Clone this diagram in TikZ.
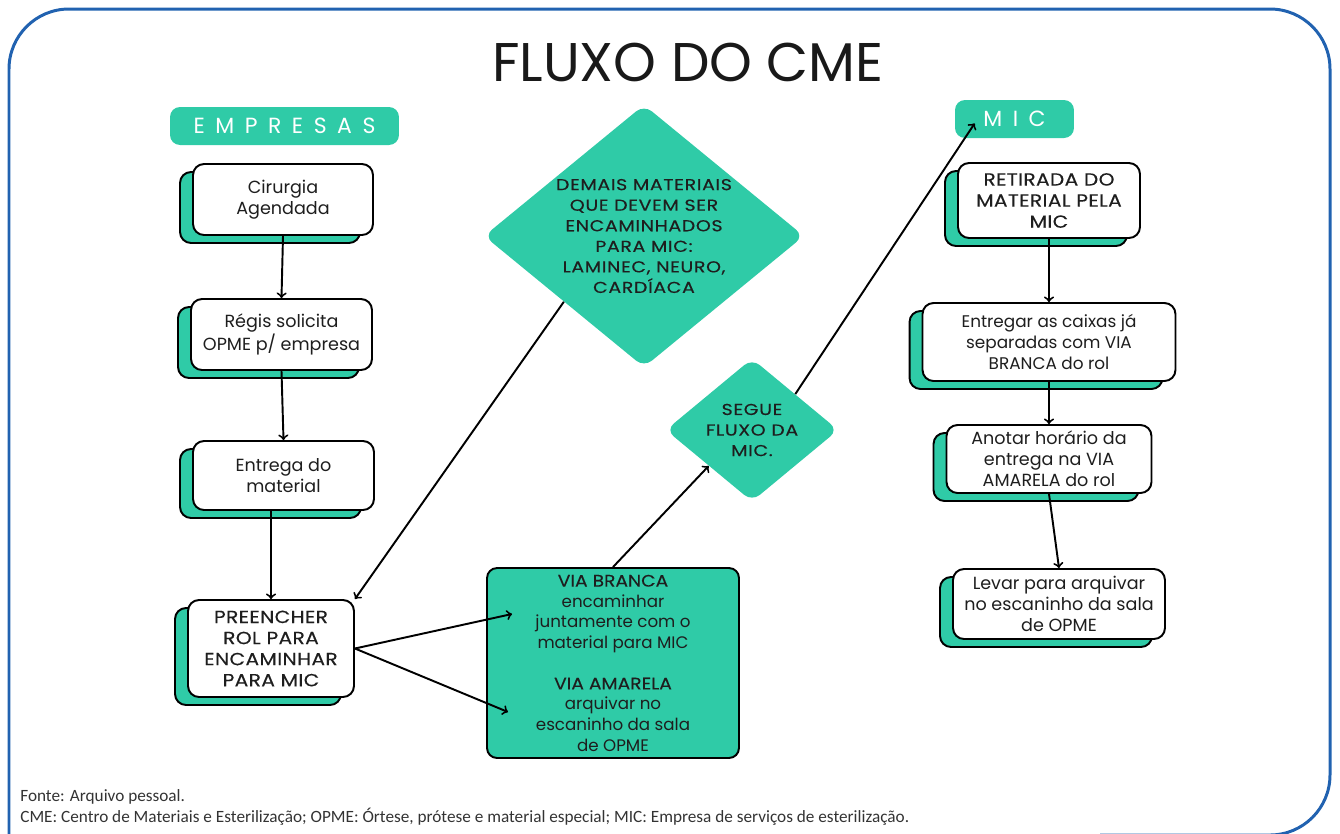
\documentclass[tikz,border=0pt]{standalone}
\usepackage{fontspec}
\setmainfont{Poppins}
\newfontfamily\notafont{Carlito}
\usetikzlibrary{shapes.geometric,shadows}
\definecolor{verde}{RGB}{47,203,167}
\definecolor{azul}{RGB}{33,98,176}
\definecolor{texto}{RGB}{30,30,30}
\newcommand{\caps}{\addfontfeature{FakeStretch=1.12,FakeBold=0.2}}
\tikzset{
  etapa/.style={draw=black, fill=white, line width=1.1pt, rounded corners=0.22cm,
    align=center, text=texto, inner sep=2pt, font=\fontsize{10}{12}\selectfont,
    copy shadow={shadow xshift=-0.26cm, shadow yshift=-0.16cm, fill=verde, draw=black, line width=1.1pt}},
  maiusc/.style={font=\fontsize{10}{12}\selectfont\addfontfeature{FakeStretch=1.15,FakeBold=0.25,LetterSpace=2}},
  losango/.style={diamond, fill=verde, rounded corners=0.2cm, align=center, text=texto,
    inner sep=0pt, shape aspect=1.23, font=\fontsize{9}{11.7}\selectfont\addfontfeature{FakeStretch=1.2,FakeBold=0.3,LetterSpace=4}},
  rotulo/.style={fill=verde, rounded corners=0.2cm, text=white, minimum height=0.76cm,
    font=\fontsize{12.5}{14}\selectfont\addfontfeature{LetterSpace=48}},
  seta/.style={line width=1.1pt,->},
}

\begin{document}
\begin{tikzpicture}[x=0.02cm,y=-0.02cm]
   \useasboundingbox (0,0) rectangle (1340,833);
   \begin{scope}
   \clip (0,0) rectangle (1340,833);
   \draw[azul, line width=1.7pt, rounded corners=1.2cm] (9,850) -- (9,9) -- (1330,9) -- (1330,835) -- (1100,835);
   \end{scope}

   \node[font=\fontsize{31}{34}\selectfont, text=black!90] (titulo) at (688,62) {FLUXO DO CME};
   \node[rotulo, minimum width=4.58cm] (empresas) at (284.5,126) {EMPRESAS};
   \node[rotulo, minimum width=2.38cm] (mic) at (1014.5,119) {MIC};

   \node[etapa, minimum width=3.6cm, minimum height=1.42cm] (cirurgia) at (283,199.5) {Cirurgia\\Agendada};
   \node[etapa, minimum width=3.62cm, minimum height=1.42cm] (regis) at (281.5,334.5) {Régis solicita\\OPME p/ empresa};
   \node[etapa, minimum width=3.62cm, minimum height=1.38cm] (entrega) at (283.5,475.5) {Entrega do\\material};
   \node[etapa, maiusc, minimum width=3.32cm, minimum height=1.94cm] (preencher) at (271,648.5) {PREENCHER\\ROL PARA\\ENCAMINHAR\\PARA MIC};

   \node[etapa, maiusc, minimum width=3.64cm, minimum height=1.5cm] (retirada) at (1049,200.5) {RETIRADA DO\\MATERIAL PELA\\MIC};
   \node[etapa, font=\fontsize{9.6}{12}\selectfont, minimum width=5.06cm, minimum height=1.56cm] (caixas) at (1049,342) {Entregar as caixas já\\separadas com VIA\\BRANCA do rol};
   \node[etapa, minimum width=4.1cm, minimum height=1.36cm] (anotar) at (1049,459) {Anotar horário da\\entrega na VIA\\AMARELA do rol};
   \node[etapa, minimum width=4.24cm, minimum height=1.4cm] (levar) at (1059,604) {Levar para arquivar\\no escaninho da sala\\de OPME};

   \node[losango, minimum width=6.4cm, minimum height=5.25cm] (demais) at (644,236)
      {DEMAIS MATERIAIS\\QUE DEVEM SER\\ENCAMINHADOS\\PARA MIC:\\LAMINEC, NEURO,\\CARDÍACA};
   \node[losango, minimum width=3.45cm, minimum height=2.86cm] (segue) at (752,430) {SEGUE\\FLUXO DA\\MIC.};

   \node[draw=black, fill=verde, line width=1.1pt, rounded corners=0.2cm, minimum width=5.04cm,
      minimum height=3.8cm, align=center, text=texto, font=\fontsize{9.5}{11.7}\selectfont] (via) at (613,663)
      {{\caps VIA BRANCA}\\encaminhar\\juntamente com o\\material para MIC\\[11.7pt]{\caps VIA AMARELA}\\arquivar no\\escaninho da sala\\de OPME};
   \coordinate (branca) at (512,614);
   \coordinate (amarela) at (508,712);

   \draw[seta] (cirurgia.south) -- (regis.north);
   \draw[seta] (regis.south) -- (entrega.north);
   \draw[seta] (entrega.south -| preencher.north) -- (preencher.north);
   \draw[seta] (demais.south west) -- (preencher.north east);
   \draw[seta] (preencher.east) -- (branca);
   \draw[seta] (preencher.east) -- (amarela);
   \draw[seta] (via.north) -- (segue.south west);
   \draw[seta] (segue.north east) -- ([xshift=0.4cm,yshift=0.3cm]mic.south west);
   \draw[seta] (retirada.south) -- (caixas.north);
   \draw[seta] (caixas.south) -- (anotar.north);
   \draw[seta] (anotar.south) -- (levar.north);

   \node[anchor=north west, align=left, inner sep=0pt, text=black!80, font=\notafont\fontsize{9.8}{12}\selectfont] (fonte) at (20,789)
      {Fonte: Arquivo pessoal.\\CME: Centro de Materiais e Esterilização; OPME: Órtese, prótese e material especial; MIC: Empresa de serviços de esterilização.};
\end{tikzpicture}
\end{document}
